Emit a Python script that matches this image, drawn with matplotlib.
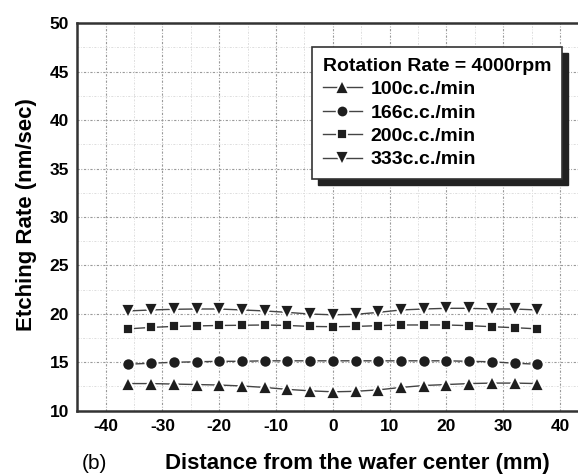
import numpy as np
import matplotlib.pyplot as plt
from matplotlib.patches import Rectangle
from matplotlib.ticker import MultipleLocator

plt.rcParams['font.family'] = ['Liberation Sans', 'DejaVu Sans']
plt.rcParams['axes.unicode_minus'] = False

# distance from wafer center (mm)
pos = [-36, -32, -28, -24, -20, -16, -12, -8, -4, 0, 4, 8, 12, 16, 20, 24, 28, 32, 36]

rate_100 = [12.8, 12.8, 12.75, 12.7, 12.65, 12.55, 12.4, 12.2, 12.05, 11.95, 12.0, 12.15, 12.4, 12.6, 12.7, 12.8, 12.85, 12.85, 12.8]
rate_166 = [14.8, 14.9, 15.0, 15.05, 15.1, 15.1, 15.15, 15.15, 15.15, 15.15, 15.15, 15.15, 15.15, 15.15, 15.15, 15.1, 15.05, 14.9, 14.8]
rate_200 = [18.45, 18.6, 18.7, 18.75, 18.8, 18.82, 18.85, 18.8, 18.7, 18.67, 18.7, 18.78, 18.85, 18.85, 18.85, 18.78, 18.67, 18.57, 18.45]
rate_333 = [20.3, 20.4, 20.47, 20.5, 20.5, 20.4, 20.3, 20.15, 19.98, 19.9, 19.95, 20.15, 20.4, 20.5, 20.57, 20.57, 20.5, 20.5, 20.4]

labels = ['100c.c./min', '166c.c./min', '200c.c./min', '333c.c./min']
markers = ['^', 'o', 's', 'v']
msizes = [10, 8.8, 7.8, 10]

fig = plt.figure(figsize=(5.78, 4.76), dpi=100)
ax = fig.add_axes([0.1337, 0.1372, 0.8844, 0.8139])

for y, lab, m, ms in zip([rate_100, rate_166, rate_200, rate_333], labels, markers, msizes):
    ax.plot(pos, y, color='#444444', lw=1.0, marker=m, ms=ms,
            mfc='#1e1e1e', mec='white', mew=1.3, label=lab, zorder=3)

ax.set_xlim(-45, 45)
ax.set_ylim(10, 50)
ax.xaxis.set_major_locator(MultipleLocator(10))
ax.xaxis.set_minor_locator(MultipleLocator(5))
ax.yaxis.set_major_locator(MultipleLocator(5))
ax.yaxis.set_minor_locator(MultipleLocator(2.5))
ax.grid(which='major', ls=(0, (2, 1.5, 0.8, 1.5)), color='#999999', lw=0.8)
ax.grid(which='minor', ls=(0, (2, 1.5, 0.8, 1.5)), color='#dddddd', lw=0.7)
ax.tick_params(which='both', length=0, labelsize=12.5, pad=6)
for t in ax.get_xticklabels() + ax.get_yticklabels():
    t.set_fontweight('bold')
for s in ax.spines.values():
    s.set_linewidth(1.8)
    s.set_color('#333333')

ax.set_ylabel('Etching Rate (nm/sec)', fontsize=16, fontweight='bold')
ax.yaxis.set_label_coords(-0.078, 0.505)
fig.text(0.618, 0.027, 'Distance from the wafer center (mm)', fontsize=16,
         fontweight='bold', ha='center', va='center')
fig.text(0.163, 0.027, '(b)', fontsize=15, ha='center', va='center')

leg = ax.legend(title='Rotation Rate = 4000rpm', loc='upper right',
                bbox_to_anchor=(562 / 578, 1 - 47 / 476), bbox_transform=fig.transFigure,
                borderaxespad=0, fancybox=False, framealpha=1, edgecolor='#333333',
                prop={'weight': 'bold', 'size': 14}, title_fontproperties={'weight': 'bold', 'size': 14},
                markerscale=0.95, handlelength=2.0, labelspacing=0.3, borderpad=0.55,
                handletextpad=0.45, alignment='left')
leg.get_frame().set_linewidth(1.2)
leg.set_zorder(6)

fig.canvas.draw()
bb = leg.get_frame().get_window_extent()
ax.add_patch(Rectangle((bb.x0 + 6, bb.y0 - 6), bb.width, bb.height, transform=None,
                       color='#222222', zorder=5.5, clip_on=False))

plt.savefig('out.png', dpi=100)
